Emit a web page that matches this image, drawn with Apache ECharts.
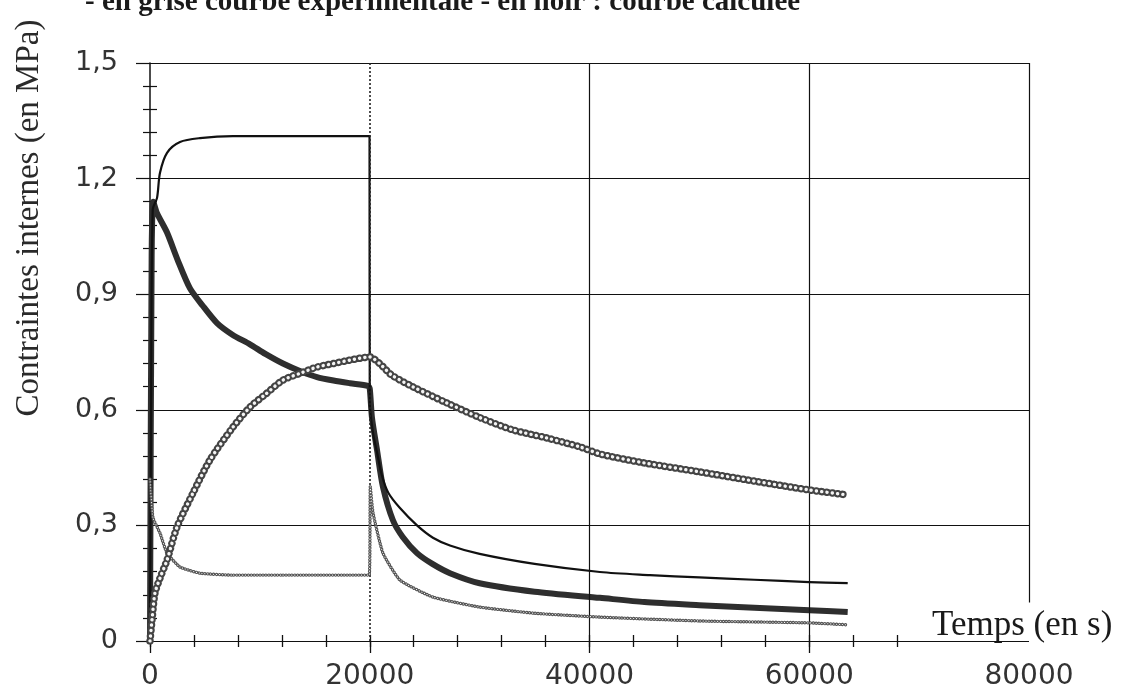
<!DOCTYPE html>
<html><head><meta charset="utf-8">
<script src="https://cdn.jsdelivr.net/npm/echarts@6/dist/echarts.min.js"></script>
<style>html,body{margin:0;padding:0;background:#fff}#c{width:1125px;height:697px}</style>
</head><body><div id="c"></div>
<script>
// ---- Data ----
const titleText = '- en grisé courbe expérimentale - en noir : courbe calculée';
const yName = 'Contraintes internes (en MPa)';
const xName = 'Temps (en s)';
const xTickLabels = ['0', '20000', '40000', '60000', '80000'];
const yTickLabels = ['0', '0,3', '0,6', '0,9', '1,2', '1,5'];
const xMinorTicks = [0, 4000, 8000, 12000, 16000, 20000, 24000, 28000, 32000, 36000, 40000, 44000, 48000, 52000, 56000, 60000, 64000, 68000];
const xMajorTicks = [0, 20000, 40000, 60000];

// calculated curve 1 (thin black)
const tCalcThin = [0, 100, 250, 640, 910, 1550, 2730, 4550, 7550, 12000, 19980, 20000, 20000, 20300, 20660, 21100, 21700, 22750, 24300, 25750, 27300, 30000, 35000, 40950, 45500, 50000, 55000, 60000, 63500];
const vCalcThin = [0, 0.6, 1.12, 1.15, 1.215, 1.267, 1.295, 1.305, 1.31, 1.31, 1.31, 1.31, 0.62, 0.54, 0.49, 0.43, 0.384, 0.345, 0.30, 0.268, 0.248, 0.226, 0.2, 0.179, 0.171, 0.165, 0.159, 0.153, 0.15];

// calculated curve 2 (thick black)
const tCalcThick = [0, 150, 300, 640, 1550, 2500, 3640, 4800, 6100, 7500, 9100, 10500, 12100, 13700, 15200, 16700, 18200, 19840, 20000, 20200, 20660, 21200, 22100, 23000, 24300, 25700, 27300, 30000, 35000, 40950, 45000, 50000, 55000, 60000, 63500];
const vCalcThick = [0, 1.0, 1.14, 1.11, 1.06, 0.99, 0.915, 0.87, 0.825, 0.795, 0.77, 0.745, 0.72, 0.70, 0.685, 0.676, 0.669, 0.662, 0.655, 0.58, 0.496, 0.40, 0.314, 0.27, 0.228, 0.20, 0.176, 0.15, 0.128, 0.112, 0.101, 0.093, 0.086, 0.080, 0.075];

// experimental curve 1 (grey, ringed)
const tExpRing = [0, 200, 455, 1000, 1550, 2460, 3910, 5460, 7550, 9100, 10500, 12100, 13700, 15200, 16700, 18200, 20000, 20900, 22000, 23900, 27000, 30000, 33000, 36100, 39100, 41000, 45000, 50000, 55000, 60000, 63500];
const vExpRing = [0, 0.06, 0.125, 0.17, 0.21, 0.296, 0.384, 0.47, 0.555, 0.607, 0.64, 0.677, 0.695, 0.711, 0.72, 0.729, 0.737, 0.72, 0.69, 0.66, 0.618, 0.58, 0.548, 0.527, 0.504, 0.485, 0.462, 0.439, 0.415, 0.392, 0.379];

// experimental curve 2 (grey, thin)
const tExpThin = [0, 270, 910, 1550, 2730, 4550, 7550, 12000, 19950, 20050, 20300, 21200, 22750, 25750, 30000, 35000, 40950, 50000, 60000, 63500];
const vExpThin = [0.42, 0.32, 0.28, 0.228, 0.192, 0.176, 0.171, 0.171, 0.171, 0.40, 0.332, 0.228, 0.158, 0.114, 0.088, 0.072, 0.062, 0.052, 0.047, 0.042];

const zip = (a, b) => a.map((t, i) => [t, b[i]]);

const chart = echarts.init(document.getElementById('c'), null, {renderer: 'canvas'});
const sansFont = '"DejaVu Sans", sans-serif';
const serifFont = '"Liberation Serif", "Times New Roman", serif';

const xAxisBase = {type: 'value', min: 0, max: 80000, gridIndex: 0, position: 'bottom',
  axisLine: {show: false}, splitLine: {show: false}};

const option = {
  animation: false,
  backgroundColor: '#fff',
  grid: {left: 150, right: 96, top: 63, bottom: 56, containLabel: false},
  xAxis: [
    Object.assign({}, xAxisBase, {
      interval: 20000,
      axisTick: {show: true, customValues: xMajorTicks, length: 12, lineStyle: {color: '#111', width: 1.3}},
      axisLabel: {show: true, margin: 22, color: '#333', fontFamily: sansFont, fontSize: 28,
        formatter: (v) => xTickLabels[Math.round(v / 20000)]}
    }),
    Object.assign({}, xAxisBase, {
      interval: 20000,
      axisTick: {show: true, customValues: xMinorTicks, length: 6, lineStyle: {color: '#111', width: 1.3}},
      axisLabel: {show: false}
    }),
    Object.assign({}, xAxisBase, {
      interval: 20000,
      axisTick: {show: true, inside: true, customValues: xMinorTicks, length: 6, lineStyle: {color: '#111', width: 1.3}},
      axisLabel: {show: false}
    })
  ],
  yAxis: [
    {type: 'value', min: 0, max: 1.5, interval: 0.3,
      axisLine: {show: true, lineStyle: {color: '#111', width: 1.5}},
      axisTick: {show: true, length: 14, lineStyle: {color: '#111', width: 1.2}},
      minorTick: {show: true, splitNumber: 5, length: 7, lineStyle: {color: '#111', width: 1.2}},
      splitLine: {show: true, lineStyle: {color: '#111', width: 1.2}},
      axisLabel: {margin: 32, color: '#333', fontFamily: sansFont, fontSize: 27,
        formatter: (v) => yTickLabels[Math.round(v / 0.3)]}
    },
    {type: 'value', min: 0, max: 1.5, interval: 0.3, position: 'left',
      axisLine: {show: false},
      axisTick: {show: false, inside: true},
      minorTick: {show: true, splitNumber: 5, length: 7, lineStyle: {color: '#111', width: 1.2}},
      splitLine: {show: false}, axisLabel: {show: false}
    }
  ],
  graphic: [
    {type: 'text', x: 85, y: 3, silent: true,
      style: {text: titleText, font: 'bold 29px ' + serifFont, fill: '#1a1a1a', textAlign: 'left', textVerticalAlign: 'middle'}},
    {type: 'text', x: 29, y: 218, rotation: Math.PI / 2, silent: true,
      style: {text: yName, font: '33px ' + serifFont, fill: '#2a2a2a', textAlign: 'center', textVerticalAlign: 'middle'}},
    {type: 'text', x: 932, y: 626, silent: true,
      style: {text: xName, font: '35px ' + serifFont, fill: '#1a1a1a', textAlign: 'left', textVerticalAlign: 'middle'}}
  ],
  series: [
    {name: 'calc-thick', type: 'line', data: zip(tCalcThick, vCalcThick), showSymbol: false, smooth: 0.25,
      lineStyle: {color: '#2e2e2e', width: 6, join: 'round'}, z: 3,
      markLine: {silent: true, symbol: ['none', 'none'], label: {show: false},
        lineStyle: {color: '#111', width: 1.2, type: 'solid'},
        data: [
          {xAxis: 20000, lineStyle: {type: [2, 2], width: 1.6, color: '#222'}},
          {xAxis: 40000},
          {xAxis: 60000},
          [{coord: [80000, 0.1]}, {coord: [80000, 1.5]}],
          [{coord: [0, 0]}, {coord: [70000, 0]}]
        ]}
    },
    {name: 'calc-thin', type: 'line', data: zip(tCalcThin, vCalcThin), showSymbol: false, smooth: 0.3,
      lineStyle: {color: '#111', width: 2.2, join: 'round'}, z: 4},
    {name: 'exp-thin-a', type: 'line', data: zip(tExpThin, vExpThin), showSymbol: false, smooth: 0.15,
      lineStyle: {color: '#555', width: 3.4, type: [0.1, 2.8], cap: 'round'}, z: 5},
    {name: 'exp-thin-b', type: 'line', data: zip(tExpThin, vExpThin), showSymbol: false, smooth: 0.15,
      lineStyle: {color: '#fff', width: 1.1, type: [0.1, 2.8], cap: 'round'}, z: 6},
    {name: 'exp-ring-a', type: 'line', data: zip(tExpRing, vExpRing), showSymbol: false, smooth: 0.25,
      lineStyle: {color: '#444', width: 7.5, type: [0.1, 5.2], cap: 'round'}, z: 7},
    {name: 'exp-ring-b', type: 'line', data: zip(tExpRing, vExpRing), showSymbol: false, smooth: 0.25,
      lineStyle: {color: '#f4f4f4', width: 3.4, type: [0.1, 5.2], cap: 'round'}, z: 8}
  ]
};
chart.setOption(option);
</script>
</body></html>
